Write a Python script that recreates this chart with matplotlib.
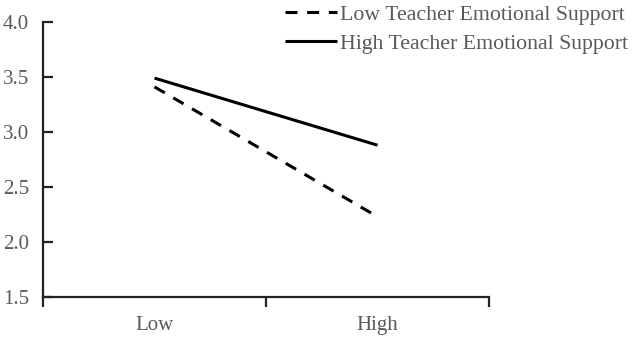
import matplotlib
matplotlib.use('Agg')
import matplotlib.pyplot as plt

categories = ['Low', 'High']
low_support = [3.41, 2.23]
high_support = [3.49, 2.88]
yticks = [1.5, 2.0, 2.5, 3.0, 3.5, 4.0]

plt.rcParams['font.family'] = ['Liberation Serif', 'DejaVu Serif']

fig = plt.figure(figsize=(6.33, 3.38), dpi=100)
ax = fig.add_axes([43 / 633, 41 / 338, 446 / 633, 275 / 338])

x = range(len(categories))
ax.plot(x, low_support, color='black', lw=2.2, dashes=(3.9, 3.2),
        dash_capstyle='butt', label='Low Teacher Emotional Support')
ax.plot(x, high_support, color='black', lw=2.2, solid_capstyle='butt',
        label='High Teacher Emotional Support')

ax.set_xlim(-0.5, 1.5)
ax.set_ylim(1.5, 4.0)
ax.set_yticks(yticks)
ax.set_yticklabels(['%.1f' % v for v in yticks])
ax.set_xticks([-0.5, 0.5, 1.5])
ax.set_xticklabels([])
ax.set_xticks(list(x), minor=True)
ax.set_xticklabels(categories, minor=True)

for s in ['top', 'right']:
    ax.spines[s].set_visible(False)
for s in ['left', 'bottom']:
    ax.spines[s].set_linewidth(1.6)
    ax.spines[s].set_color('#222222')

ax.tick_params(axis='y', direction='in', length=7, width=1.6, color='#222222',
               labelcolor='#595959', labelsize=15, pad=10)
ax.tick_params(axis='x', which='major', direction='out', length=7, width=1.6,
               color='#222222')
ax.tick_params(axis='x', which='minor', length=0, labelcolor='#595959',
               labelsize=15, pad=14)

fig.legend(loc='upper right', bbox_to_anchor=(1.012, 1.026), frameon=False,
           fontsize=15.7, labelcolor='#595959', handlelength=2.4,
           handletextpad=0.1, labelspacing=0.42, borderaxespad=0.2)

fig.savefig('out.png', dpi=100)
